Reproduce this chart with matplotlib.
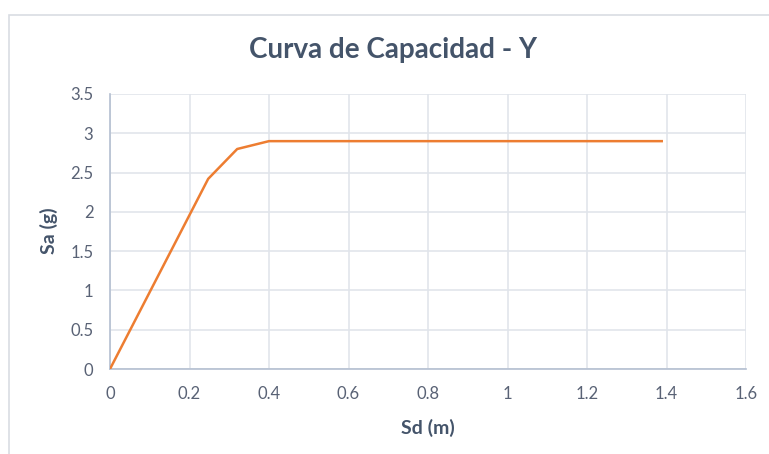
import matplotlib
matplotlib.use("Agg")
import matplotlib.pyplot as plt
from matplotlib.patches import Rectangle

# curva de capacidad en direccion Y
sd = [0.0, 0.247, 0.32, 0.40, 1.388]
sa = [0.0, 2.42, 2.80, 2.90, 2.90]

xticks = [0, 0.2, 0.4, 0.6, 0.8, 1, 1.2, 1.4, 1.6]
yticks = [0, 0.5, 1, 1.5, 2, 2.5, 3, 3.5]
xlabels = ["0", "0.2", "0.4", "0.6", "0.8", "1", "1.2", "1.4", "1.6"]
ylabels = ["0", "0.5", "1", "1.5", "2", "2.5", "3", "3.5"]

plt.rcParams['font.family'] = ['Lato', 'DejaVu Sans']

fig = plt.figure(figsize=(7.69, 4.54), dpi=100)
# cadre du graphique
fig.patches.append(Rectangle((9/769, -0.05), 1.0, 1 - 15/454 + 0.05, transform=fig.transFigure,
                             fill=False, edgecolor="#D9DDE3", linewidth=1.2))

ax = fig.add_axes([110/769, 1 - 369/454, 636/769, 275/454])
ax.plot(sd, sa, color="#ED7D31", linewidth=1.8, zorder=3)

ax.set_xlim(0, 1.6)
ax.set_ylim(0, 3.5)
ax.set_xticks(xticks)
ax.set_xticklabels(xlabels)
ax.set_yticks(yticks)
ax.set_yticklabels(ylabels)
ax.grid(True, color="#E1E5EB", linewidth=1.2)
ax.set_axisbelow(True)
for s in ["top", "right"]:
    ax.spines[s].set_visible(False)
ax.spines["left"].set_color("#B4BFD1")
ax.spines["bottom"].set_color("#B4BFD1")
ax.spines["left"].set_linewidth(1.2)
ax.spines["bottom"].set_linewidth(1.2)
ax.tick_params(axis="y", length=0, labelsize=12, colors="#596275", pad=12)
ax.tick_params(axis="x", length=0, labelsize=12, colors="#596275", pad=12)

fig.text(428/769, 1 - 428/454, "Sd (m)", ha="center", va="center",
         fontsize=14, fontweight="bold", color="#44546A")
fig.text(49/769, 1 - 231/454, "Sa (g)", ha="center", va="center", rotation=90,
         fontsize=14, fontweight="bold", color="#44546A")
fig.text(393/769, 1 - 50/454, "Curva de Capacidad - Y", ha="center", va="center",
         fontsize=20, fontweight="bold", color="#44546A")

plt.savefig("out.png", dpi=100)
